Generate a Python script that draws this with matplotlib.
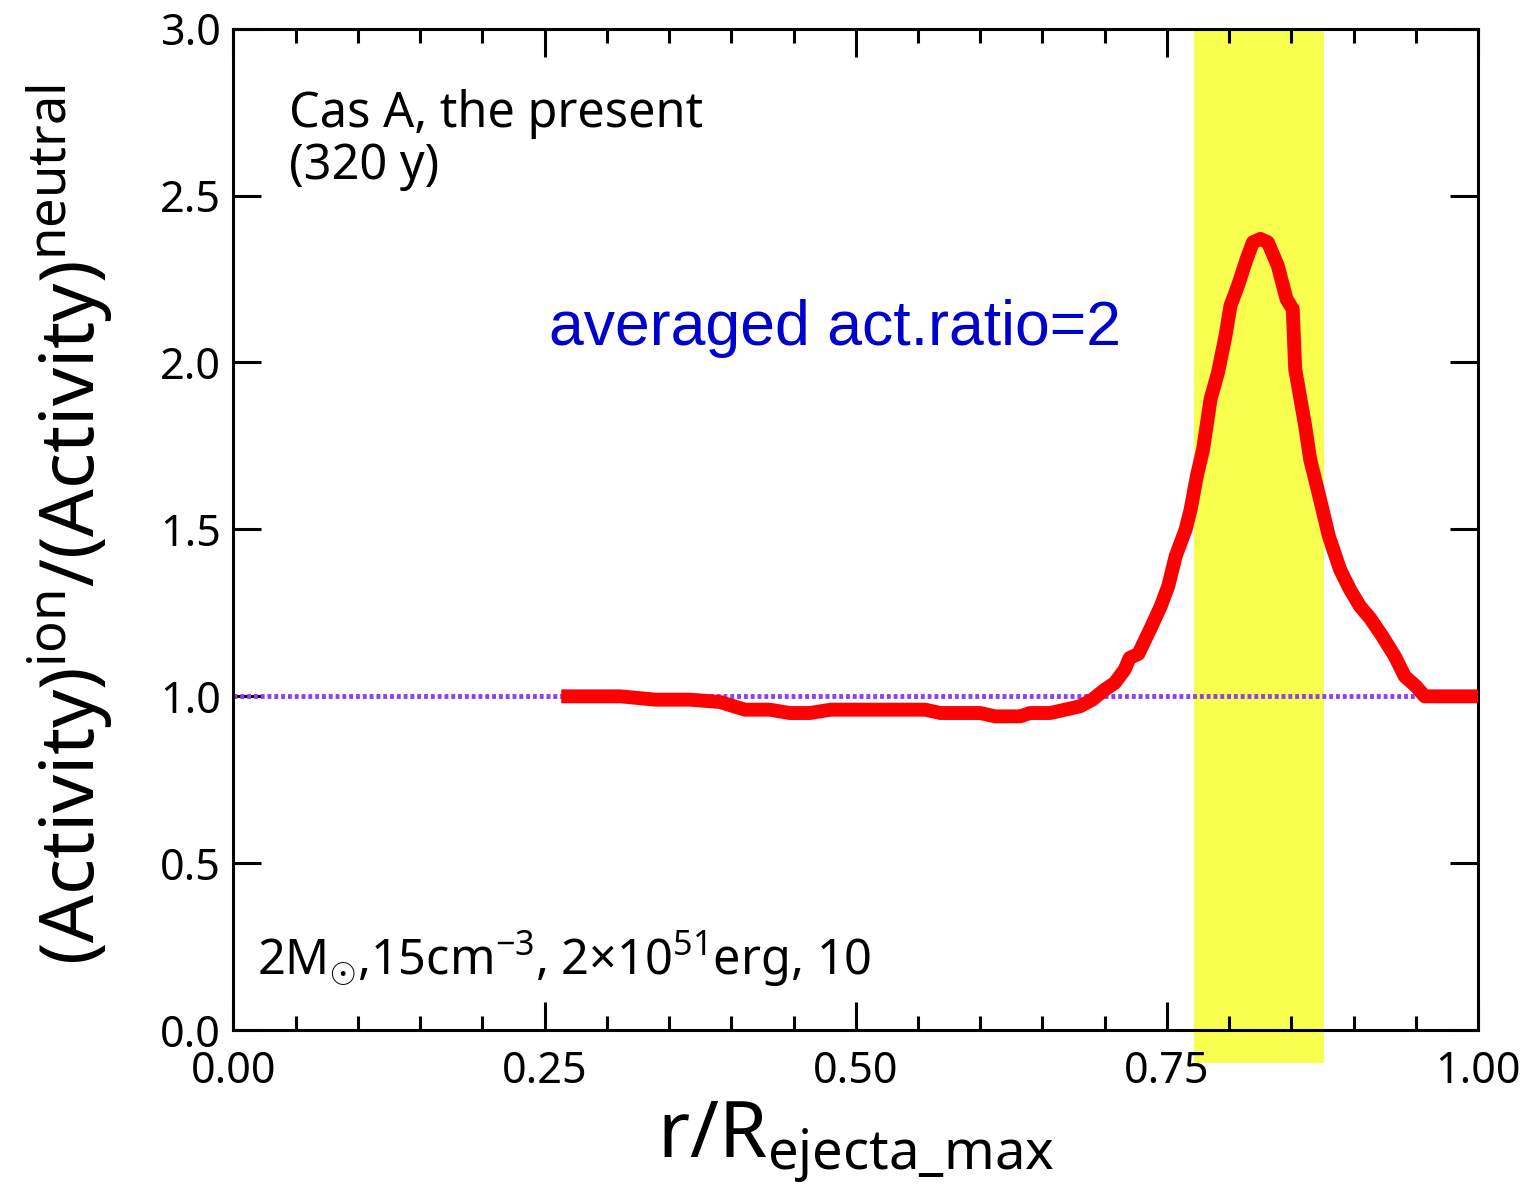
import numpy as np
import matplotlib
matplotlib.use("Agg")
import matplotlib.pyplot as plt

parameters = {'font.family': ['Noto Sans', 'DejaVu Sans'],
              'mathtext.fontset': 'custom',
              'mathtext.rm': 'Noto Sans',
              'mathtext.it': 'Noto Sans:italic',
              'xtick.labelsize': 31,
              'ytick.labelsize': 31,
              'axes.linewidth': 2.2}
plt.rcParams.update(parameters)

# red curve: activity ratio vs r / R_ejecta_max
r = [0.269, 0.311, 0.339, 0.367, 0.391, 0.411, 0.431, 0.447, 0.463, 0.480,
     0.556, 0.568, 0.600, 0.612, 0.632, 0.640, 0.656, 0.668, 0.680, 0.690,
     0.700, 0.708, 0.716, 0.720, 0.727, 0.737, 0.745, 0.751, 0.757, 0.765,
     0.769, 0.774, 0.779, 0.785, 0.791, 0.797, 0.801, 0.807, 0.814, 0.819,
     0.825, 0.831, 0.839, 0.846, 0.851, 0.853, 0.861, 0.865, 0.871, 0.880,
     0.889, 0.897, 0.905, 0.913, 0.923, 0.933, 0.941, 0.950, 0.957, 0.966,
     1.000]
ratio = [1.00, 1.00, 0.99, 0.99, 0.983, 0.96, 0.96, 0.95, 0.95, 0.96,
         0.96, 0.95, 0.95, 0.94, 0.94, 0.95, 0.95, 0.96, 0.97, 0.99,
         1.02, 1.04, 1.08, 1.115, 1.127, 1.205, 1.27, 1.33, 1.42, 1.50,
         1.56, 1.66, 1.74, 1.89, 1.97, 2.08, 2.17, 2.23, 2.31, 2.36,
         2.37, 2.36, 2.29, 2.19, 2.16, 1.98, 1.81, 1.71, 1.62, 1.48,
         1.38, 1.32, 1.27, 1.235, 1.18, 1.12, 1.06, 1.03, 1.00, 1.00,
         1.00]

band = [0.772, 0.876]   # highlighted region
ref_level = 1.0

fig = plt.figure(figsize=(15.35, 11.91), dpi=100)
ax = fig.add_axes([0.152, 0.135, 0.811, 0.841])

ax.axvspan(band[0], band[1], ymin=-0.033, ymax=1.0, color='#f8ff4f', lw=0,
           clip_on=False, zorder=0)
ax.axhline(ref_level, color='#9040f0', lw=3.5, dashes=(0.8, 0.6), zorder=2)
ax.plot(r, ratio, color='#ff0000', lw=10, solid_joinstyle='round', zorder=3)

ax.set_xlim(0, 1)
ax.set_ylim(0, 3)
ax.set_xticks([0, 0.25, 0.5, 0.75, 1.0])
ax.set_xticks(np.arange(0, 1.0001, 0.05), minor=True)
ax.set_yticks(np.arange(0, 3.01, 0.5))
ax.xaxis.set_major_formatter(matplotlib.ticker.FormatStrFormatter('%.2f'))
ax.yaxis.set_major_formatter(matplotlib.ticker.FormatStrFormatter('%.1f'))
ax.tick_params(which='both', direction='in', top=True, right=True, width=2.2)
ax.tick_params(which='major', length=20)
ax.tick_params(which='minor', length=10)
ax.tick_params(axis='x', pad=14)
ax.tick_params(axis='y', pad=9)

ax.set_xlabel(r'r/R$_{\rm ejecta\_max}$', fontsize=56, labelpad=4)
ax.set_ylabel(r'(Activity)$^{\rm ion}$/(Activity)$^{\rm neutral}$', fontsize=54)
ax.yaxis.set_label_coords(-0.095, 0.505)

ax.text(0.045, 0.94, 'Cas A, the present\n(320 y)', transform=ax.transAxes,
        fontsize=35, va='top', ha='left', linespacing=1.05)
ax.text(0.483, 0.701, 'averaged act.ratio=2', transform=ax.transAxes,
        fontsize=45, color='#0000cc', ha='center', va='center',
        family='Liberation Sans')
ax.text(0.019, 0.055, r'2M$_{\odot}$,15cm$^{-3}$, 2$\times$10$^{51}$erg, 10',
        transform=ax.transAxes, fontsize=35, ha='left', va='baseline')

fig.savefig('out.png', dpi=100)
